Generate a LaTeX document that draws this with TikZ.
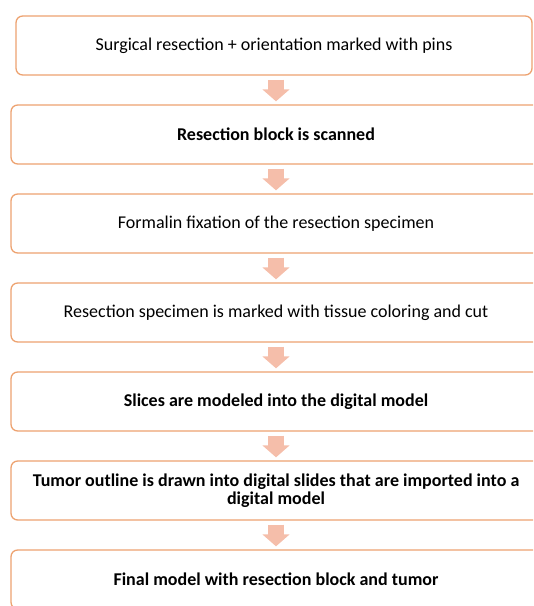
\documentclass[tikz,border=0pt]{standalone}
\usepackage{fontspec}
\setmainfont{Carlito}
\usetikzlibrary{arrows.meta}
\definecolor{boxline}{RGB}{237,162,112}
\definecolor{arrowfill}{RGB}{245,190,170}
\tikzset{
  stepbox/.style={draw=boxline, line width=1pt, rounded corners=5pt,
    minimum width=397.5pt, minimum height=44.25pt, inner sep=2pt,
    align=center, font=\fontsize{13.5}{13.5}\selectfont},
  flow/.style={draw=arrowfill, line width=12pt,
    -{Triangle[width=20pt,length=9pt]}, shorten <=3pt, shorten >=2.25pt}
}
\begin{document}
\begin{tikzpicture}[x=0.75pt, y=-0.75pt]
    \path[use as bounding box, clip] (0,0) rectangle (533,606);
    \coordinate (ax) at (276,0);

    \node[stepbox, minimum width=387pt] (b1) at (274,45.5)
      {Surgical resection + orientation marked with pins};
    \node[stepbox] (b2) at (276,134.5) {\bfseries Resection block is scanned};
    \node[stepbox] (b3) at (276,223.5) {Formalin fixation of the resection specimen};
    \node[stepbox] (b4) at (276,312.5)
      {Resection specimen is marked with tissue coloring and cut};
    \node[stepbox] (b5) at (276,401.5)
      {\bfseries Slices are modeled into the digital model};
    \node[stepbox] (b6) at (276,490.5)
      {\bfseries Tumor outline is drawn into digital slides that are imported into a\\
       \bfseries digital model};
    \node[stepbox] (b7) at (276,579.5)
      {\bfseries Final model with resection block and tumor};

    % block arrows between the steps
    \foreach \a/\b in {b1/b2,b2/b3,b3/b4,b4/b5,b5/b6,b6/b7}
    \draw[flow] (\a.south -| ax) -- (\b.north -| ax);

\end{tikzpicture}
\end{document}
